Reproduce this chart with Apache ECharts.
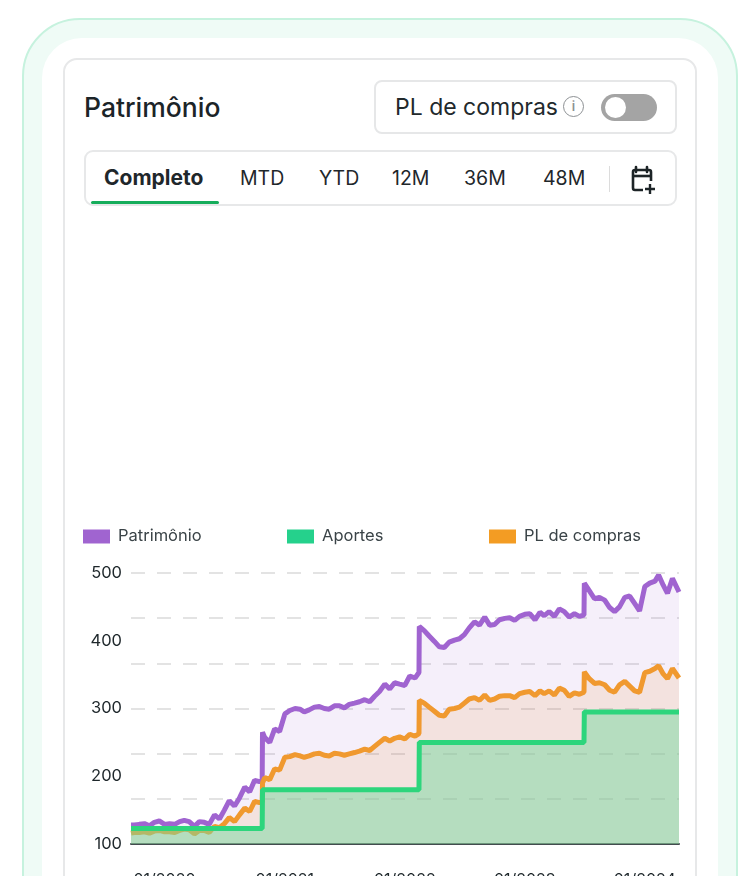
<!DOCTYPE html>
<html>
<head>
<meta charset="utf-8">
<script src="https://cdn.jsdelivr.net/npm/echarts@6/dist/echarts.min.js"></script>
<style>
  html, body { margin: 0; padding: 0; width: 750px; height: 876px; overflow: hidden; background: #fff; font-family: Inter, "Noto Sans", sans-serif; }
  .outer { position: absolute; left: 22px; top: 18px; width: 716px; height: 980px; border: 2px solid #c6f2de; border-radius: 58px; background: #effbf6; box-sizing: border-box; }
  .inner { position: absolute; left: 42px; top: 38px; width: 676px; height: 980px; background: #fff; border-radius: 40px; }
  .card { position: absolute; left: 63px; top: 58px; width: 634px; height: 980px; border: 2px solid #e7e8e9; border-radius: 14px; box-sizing: border-box; background: #fff; }
  .title { position: absolute; left: 84px; top: 90px; font-size: 26.5px; line-height: 34px; color: #1b2428; font-weight: 500; }
  .toggle { position: absolute; left: 374px; top: 80px; width: 303px; height: 54px; border: 2px solid #e6e7e8; border-radius: 8px; box-sizing: border-box; }
  .toggle .lbl { position: absolute; left: 19px; top: 10px; font-size: 23px; line-height: 30px; color: #22292c; }
  .toggle .info { position: absolute; left: 187px; top: 14px; width: 19px; height: 19px; border: 1.6px solid #8d9194; border-radius: 50%; color: #8d9194; font-size: 13px; line-height: 19px; text-align: center; font-weight: 600; }
  .toggle .track { position: absolute; left: 225px; top: 12px; width: 56px; height: 27px; border-radius: 14px; background: #a4a4a4; }
  .toggle .knob { position: absolute; left: 4px; top: 3px; width: 21px; height: 21px; border-radius: 50%; background: #fff; }
  .tabs { position: absolute; left: 84px; top: 150px; width: 593px; height: 56px; border: 2px solid #e7e8e9; border-radius: 9px; box-sizing: border-box; }
  .tab { position: absolute; top: 14px; font-size: 19.5px; line-height: 25px; color: #1f272b; }
  .tab.on { font-weight: 700; font-size: 21px; top: 13px; }
  .under { position: absolute; left: 5px; top: 49px; width: 128px; height: 3px; background: #16ad5b; border-radius: 2px; }
  .sep { position: absolute; left: 523px; top: 14px; width: 1px; height: 26px; background: #dcdcdc; }
  .cal { position: absolute; left: 544px; top: 13px; }
  #chart { position: absolute; left: 64px; top: 500px; width: 632px; height: 420px; }
</style>
</head>
<body>
<div class="outer"></div>
<div class="inner"></div>
<div class="card"></div>
<div class="title">Patrimônio</div>
<div class="toggle">
  <div class="lbl">PL de compras</div>
  <div class="info">i</div>
  <div class="track"><div class="knob"></div></div>
</div>
<div class="tabs">
  <div class="tab on" style="left:18px">Completo</div>
  <div class="tab" style="left:154px">MTD</div>
  <div class="tab" style="left:233px">YTD</div>
  <div class="tab" style="left:306px">12M</div>
  <div class="tab" style="left:378px">36M</div>
  <div class="tab" style="left:457px">48M</div>
  <div class="under"></div>
  <div class="sep"></div>
  <svg class="cal" width="28" height="30" viewBox="0 0 28 30">
    <path d="M6 2 V7 M17 2 V7" stroke="#1d2427" stroke-width="2.6" stroke-linecap="round"/>
    <path d="M13 25 H5 a2 2 0 0 1 -2 -2 V7 a2 2 0 0 1 2 -2 H19 a2 2 0 0 1 2 2 V16" fill="none" stroke="#1d2427" stroke-width="2.6"/>
    <path d="M3 11 H21" stroke="#1d2427" stroke-width="2.6"/>
    <path d="M20 19 V29 M15 24 H25" stroke="#1d2427" stroke-width="2.4"/>
  </svg>
</div>
<div id="chart"></div>
<script>
  const dates = [
    '2019-09-21', '2019-10-01', '2019-10-16', '2019-11-01', '2019-11-16', '2019-12-01', '2019-12-16',
    '2020-01-01', '2020-01-16', '2020-02-01', '2020-02-16', '2020-03-01', '2020-03-16', '2020-04-01', '2020-04-16',
    '2020-05-01', '2020-05-16', '2020-06-01', '2020-06-16', '2020-07-01', '2020-07-16', '2020-08-01', '2020-08-16',
    '2020-09-01', '2020-09-16', '2020-10-01', '2020-10-16', '2020-10-24', '2020-10-25', '2020-11-01', '2020-11-16',
    '2020-12-01', '2020-12-16',
    '2021-01-01', '2021-01-16', '2021-02-01', '2021-02-16', '2021-03-01', '2021-03-16', '2021-04-01', '2021-04-16',
    '2021-05-01', '2021-05-16', '2021-06-01', '2021-06-16', '2021-07-01', '2021-07-16', '2021-08-01', '2021-08-16',
    '2021-09-01', '2021-09-16', '2021-10-01', '2021-10-16', '2021-11-01', '2021-11-16', '2021-12-01', '2021-12-16',
    '2022-01-01', '2022-01-16', '2022-02-01', '2022-02-13', '2022-02-14', '2022-02-16', '2022-03-01', '2022-03-16',
    '2022-04-01', '2022-04-16', '2022-05-01', '2022-05-16', '2022-06-01', '2022-06-16', '2022-07-01', '2022-07-16',
    '2022-08-01', '2022-08-16', '2022-09-01', '2022-09-16', '2022-10-01', '2022-10-16', '2022-11-01', '2022-11-16',
    '2022-12-01', '2022-12-16',
    '2023-01-01', '2023-01-16', '2023-02-01', '2023-02-16', '2023-03-01', '2023-03-16', '2023-04-01', '2023-04-16',
    '2023-05-01', '2023-05-16', '2023-06-01', '2023-06-16', '2023-06-30', '2023-07-01', '2023-07-16', '2023-08-01',
    '2023-08-16', '2023-09-01', '2023-09-16', '2023-10-01', '2023-10-16', '2023-11-01', '2023-11-16', '2023-12-01',
    '2023-12-16',
    '2024-01-01', '2024-01-16', '2024-02-01', '2024-02-12', '2024-02-26', '2024-03-10', '2024-03-25', '2024-04-14'
  ];

  const patrimonio = [
    128, 128, 129, 130, 127, 132, 134,
    129, 130, 129, 133, 135, 133, 126, 133, 132, 129, 143, 137, 150, 164, 156, 168,
    184, 177, 194, 192, 193, 265, 257, 250, 270, 266,
    292, 297, 300, 299, 295, 298, 302, 303, 300, 299, 304, 304, 301, 306, 308, 310,
    313, 310, 318, 325, 336, 329, 338, 336,
    334, 348, 345, 353, 421, 420, 415, 407, 399, 391, 390, 398, 401, 403, 409, 419,
    428, 423, 435, 423, 424, 431, 433, 434, 430, 436,
    439, 440, 431, 442, 437, 443, 436, 447, 443, 435, 440, 436, 438, 485, 474, 462,
    464, 460, 449, 443, 450, 464, 466, 455, 444,
    480, 485, 488, 497, 482, 470, 492, 472
  ];

  const plCompras = [
    116, 117, 117, 118, 116, 119, 120,
    118, 118, 117, 120, 122, 121, 115, 120, 120, 117, 126, 124, 130, 139, 133, 143,
    153, 148, 163, 161, 162, 190, 198, 195, 211, 209,
    228, 229, 232, 230, 228, 230, 233, 234, 231, 230, 234, 233, 231, 233, 235, 237,
    240, 238, 244, 250, 256, 252, 256, 258,
    255, 262, 259, 263, 312, 311, 308, 302, 296, 290, 289, 299, 300, 302, 308, 314,
    316, 312, 320, 312, 314, 318, 319, 319, 316, 322,
    324, 325, 319, 326, 322, 326, 320, 330, 327, 318, 323, 321, 324, 354, 344, 337,
    338, 335, 327, 324, 335, 340, 333, 326, 324,
    353, 355, 359, 363, 351, 344, 359, 345
  ];

  const aportes = [
    123, 123, 123, 123, 123, 123, 123,
    123, 123, 123, 123, 123, 123, 123, 123, 123, 123, 123, 123, 123, 123, 123, 123,
    123, 123, 123, 123, 123, 180, 180, 180, 180, 180,
    180, 180, 180, 180, 180, 180, 180, 180, 180, 180, 180, 180, 180, 180, 180, 180,
    180, 180, 180, 180, 180, 180, 180, 180,
    180, 180, 180, 180, 250, 250, 250, 250, 250, 250, 250, 250, 250, 250, 250, 250,
    250, 250, 250, 250, 250, 250, 250, 250, 250, 250,
    250, 250, 250, 250, 250, 250, 250, 250, 250, 250, 250, 250, 250, 295, 295, 295,
    295, 295, 295, 295, 295, 295, 295, 295, 295,
    295, 295, 295, 295, 295, 295, 295, 295
  ];

  const tickDates = ['2020-01-01', '2021-01-01', '2022-01-01', '2023-01-01', '2024-01-01'];
  const tickLabels = ['01/2020', '01/2021', '01/2022', '01/2023', '01/2024'];

  // dates -> timestamps, x axis is a plain value axis over time
  const toTime = s => {
    const p = s.split('-');
    return Date.UTC(+p[0], +p[1] - 1, +p[2]);
  };
  const tickTimes = tickDates.map(toTime);
  const pairs = vals => dates.map((d, i) => [toTime(d), vals[i]]);

  const chart = echarts.init(document.getElementById('chart'));

  const legendText = { fontSize: 16.5, color: '#3a4347', fontFamily: 'Inter', padding: [0, 0, 0, 3] };
  const legendBase = { top: 23, icon: 'rect', itemWidth: 27, itemHeight: 14, itemGap: 8, textStyle: legendText };

  chart.setOption({
    animation: false,
    textStyle: { fontFamily: 'Inter' },
    legend: [
      Object.assign({ left: 14, data: ['Patrimônio'] }, legendBase),
      Object.assign({ left: 218, data: ['Aportes'] }, legendBase),
      Object.assign({ left: 420, data: ['PL de compras'] }, legendBase)
    ],
    grid: { left: 67, right: 17, top: 73, bottom: 76 },
    xAxis: {
      type: 'value',
      min: toTime(dates[0]),
      max: toTime(dates[dates.length - 1]),
      axisLine: { lineStyle: { color: '#434b4f', width: 2 } },
      axisTick: { show: false },
      splitLine: { show: false },
      axisLabel: {
        customValues: tickTimes,
        margin: 28,
        fontSize: 16,
        color: '#1e272b',
        formatter: v => {
          const i = tickTimes.indexOf(v);
          return i >= 0 ? tickLabels[i] : '';
        }
      }
    },
    yAxis: [
      {
        type: 'value', min: 100, max: 500, interval: 100,
        axisLine: { show: false }, axisTick: { show: false },
        splitLine: { show: false },
        axisLabel: { fontSize: 16.5, color: '#1e272b', margin: 9 }
      },
      {
        type: 'value', min: 0, max: 6, interval: 1, position: 'right',
        axisLine: { show: false }, axisTick: { show: false }, axisLabel: { show: false },
        splitLine: { show: true, lineStyle: { color: '#e3e3e3', width: 2, type: [14, 12] } }
      }
    ],
    series: [
      {
        name: 'Patrimônio', type: 'line', data: pairs(patrimonio), symbol: 'none',
        color: '#a064d0',
        lineStyle: { width: 5, color: '#a064d0' },
        areaStyle: { color: 'rgba(155,95,210,0.1)', opacity: 1 },
        z: 2
      },
      {
        name: 'PL de compras', type: 'line', data: pairs(plCompras), symbol: 'none',
        color: '#f39c23',
        lineStyle: { width: 5, color: '#f0992f' },
        areaStyle: { color: 'rgba(235,140,40,0.13)', opacity: 1 },
        z: 3
      },
      {
        name: 'Aportes', type: 'line', data: pairs(aportes), symbol: 'none',
        color: '#25d18c',
        lineStyle: { width: 5, color: '#2dd57c' },
        areaStyle: { color: 'rgba(120,215,160,0.5)', opacity: 1 },
        z: 4
      }
    ]
  });
</script>
</body>
</html>
